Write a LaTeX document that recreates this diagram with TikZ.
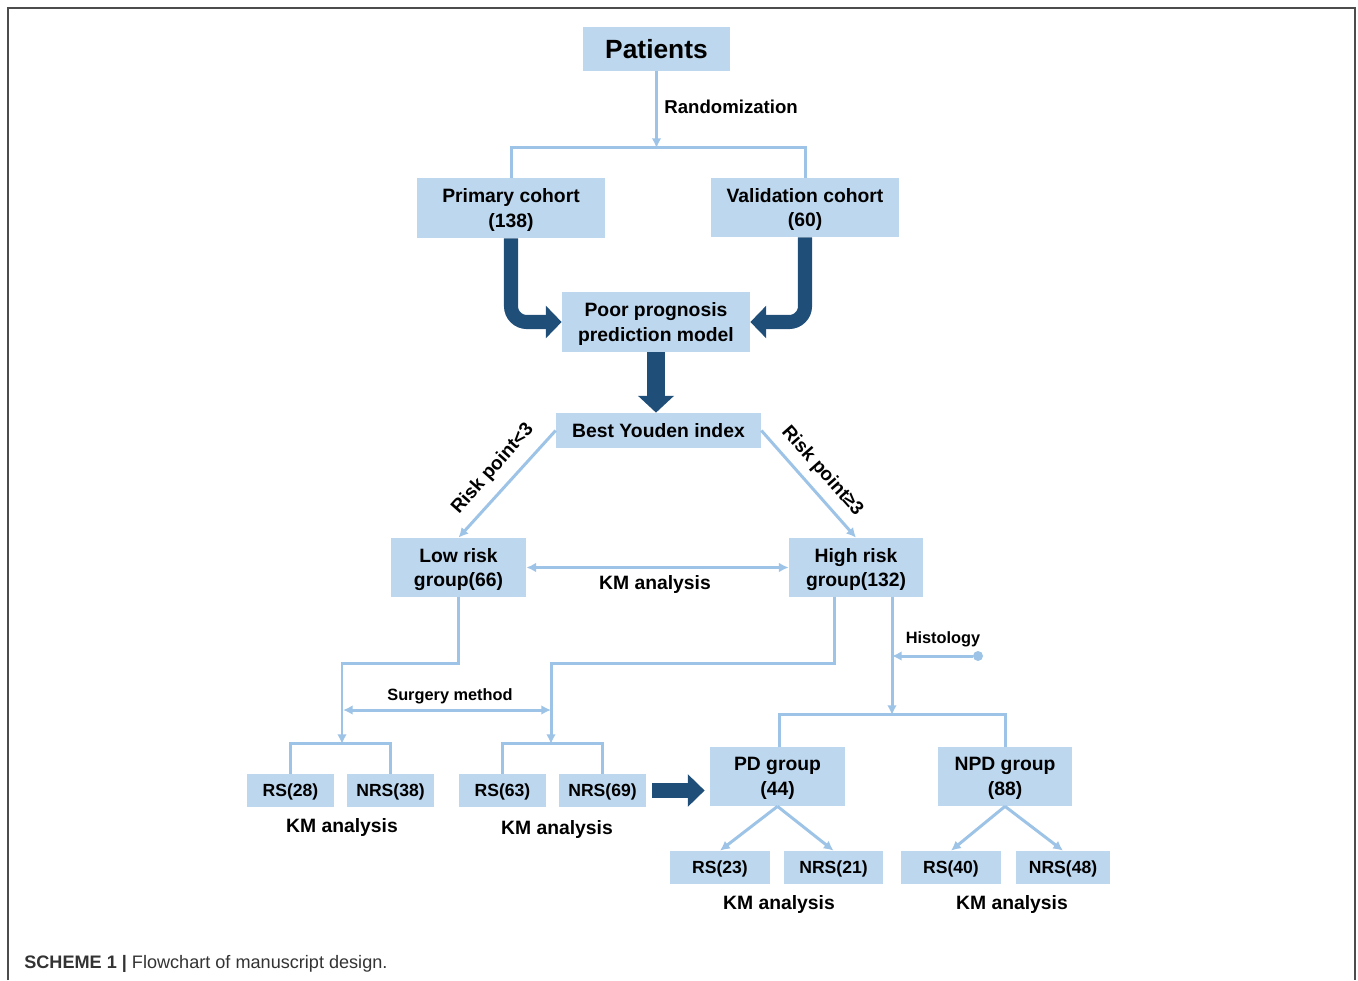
\documentclass[tikz,border=0pt]{standalone}
\usepackage{fontspec}
\setmainfont{Liberation Sans}
\usetikzlibrary{arrows.meta}
\newdimen\px \px=0.02cm
\definecolor{boxfill}{HTML}{BDD7EE}
\definecolor{lineblue}{HTML}{9DC3E6}
\definecolor{darkarrow}{HTML}{1F4E79}
\tikzset{
  box/.style={fill=boxfill, inner sep=0pt, align=center, text depth=0pt, font=\bfseries\fontsize{11}{13.9}\selectfont},
  smallbox/.style={box, minimum height=33\px, font=\bfseries\fontsize{10}{12}\selectfont},
  conn/.style={draw=lineblue, line width=1.7pt},
  arr/.style={conn, -{Latex[length=5.5pt,width=5.5pt]}},
  dblarr/.style={conn, {Latex[length=5.5pt,width=5.5pt]}-{Latex[length=5.5pt,width=5.5pt]}},
  bigarrow/.style={draw=darkarrow, line width=8pt, -{Triangle[length=9pt,width=18pt]}},
  lbl/.style={font=\bfseries\fontsize{11}{13}\selectfont, inner sep=0pt},
  smalllbl/.style={font=\bfseries\fontsize{9.3}{11}\selectfont, inner sep=0pt},
}
\begin{document}
\begin{tikzpicture}[x=0.02cm,y=-0.02cm]
\useasboundingbox (0,0) rectangle (1358,980);
% frame
\draw[black!70, line width=0.9pt] (8,980) -- (8,8) -- (1355,8) -- (1355,980);

% nodes
\node[box, minimum width=147\px, minimum height=44\px, font=\bfseries\fontsize{15}{18}\selectfont] (pat) at (656.5,49) {Patients};
\node[box, minimum width=188\px, minimum height=60\px] (prim) at (511,208) {Primary cohort\\(138)};
\node[box, minimum width=188\px, minimum height=59\px] (val) at (805,207.5) {Validation cohort\\(60)};
\node[box, minimum width=188\px, minimum height=60\px] (poor) at (656,322) {Poor prognosis\\prediction model};
\node[box, minimum width=205\px, minimum height=35\px] (best) at (658.5,430.5) {Best Youden index};
\node[box, minimum width=135\px, minimum height=59\px] (low) at (458.5,567.5) {Low risk\\group(66)};
\node[box, minimum width=134\px, minimum height=59\px] (high) at (856,567.5) {High risk\\group(132)};
\node[smallbox, minimum width=87\px] (rs28) at (290.5,790.5) {RS(28)};
\node[smallbox, minimum width=87\px] (nrs38) at (390.5,790.5) {NRS(38)};
\node[smallbox, minimum width=87\px] (rs63) at (502.5,790.5) {RS(63)};
\node[smallbox, minimum width=87\px] (nrs69) at (602.5,790.5) {NRS(69)};
\node[box, minimum width=135\px, minimum height=59\px] (pd) at (777.5,776.5) {PD group\\(44)};
\node[box, minimum width=134\px, minimum height=59\px] (npd) at (1005,776.5) {NPD group\\(88)};
\node[smallbox, minimum width=100\px] (rs23) at (720,867.5) {RS(23)};
\node[smallbox, minimum width=99\px] (nrs21) at (833.5,867.5) {NRS(21)};
\node[smallbox, minimum width=100\px] (rs40) at (951,867.5) {RS(40)};
\node[smallbox, minimum width=94\px] (nrs48) at (1063,867.5) {NRS(48)};

% labels
\node[lbl, anchor=west, font=\bfseries\fontsize{10.6}{12}\selectfont] (rand) at (664,107) {Randomization};
\node[lbl, rotate=48.5, font=\bfseries\fontsize{10.8}{12}\selectfont] (rlow) at (493,469) {Risk point<3};
\node[lbl, rotate=-48.5, font=\bfseries\fontsize{10.8}{12}\selectfont] (rhigh) at (822,471) {Risk point≥3};
\node[lbl] (km0) at (655,584) {KM analysis};
\node[smalllbl] (surg) at (450,696) {Surgery method};
\node[smalllbl] (hist) at (943,639) {Histology};
\node[lbl] (km1) at (342,827) {KM analysis};
\node[lbl] (km2) at (557,829) {KM analysis};
\node[lbl] (km3) at (779,904) {KM analysis};
\node[lbl] (km4) at (1012,904) {KM analysis};
\node[anchor=west, inner sep=0pt, text=black!80, font=\fontsize{10.3}{12}\selectfont] (cap) at (24,964) {\textbf{SCHEME 1 |} Flowchart of manuscript design.};

% coordinates
\coordinate (split) at (656.5,148);
\coordinate (b1) at (342,744);
\coordinate (b2) at (551,744);
\coordinate (b3) at (892,715);
\coordinate (sL) at (343,710);
\coordinate (sR) at (551,710);
\coordinate (hpt) at (892,656);
\node[circle, fill=lineblue, inner sep=0pt, minimum size=10\px] (dot) at (978,656) {};

% connectors
\draw[arr] (pat) -- (split);
\draw[conn] (prim.north) -- ++(0,-30) -| (val.north);
\draw[bigarrow, rounded corners=9pt] (prim.south) -- (prim.south |- poor.west) -- (poor.west);
\draw[bigarrow, rounded corners=9pt] (val.south) -- (val.south |- poor.east) -- (poor.east);
\draw[draw=darkarrow, line width=10pt, -{Triangle[length=9.6pt,width=20pt]}] (poor.south) -- (poor.south |- best.north);
\draw[arr] (best.west) -- (low.north);
\draw[arr] (best.east) -- (high.north);
\draw[dblarr] (low.east) -- (high.west);

\draw[arr] (low.south) -- ++(0,66) -| (b1);
\draw[conn] (rs28.north) -- ++(0,-30) -| (nrs38.north);
\draw[dblarr] (sL) -- (sR);
\draw[arr] ([xshift=-22\px]high.south) -- ++(0,66) -| (b2);
\draw[conn] (rs63.north) -- ++(0,-30) -| (nrs69.north);
\draw[arr] ([xshift=36\px]high.south) -- (b3);
\draw[arr] (dot) -- (hpt);
\draw[conn] ([xshift=2\px]pd.north) -- ++(0,-32) -| (npd.north);

\draw[draw=darkarrow, line width=9pt, -{Triangle[length=9.6pt,width=18pt]}] ([xshift=6\px]nrs69.east) -- ([xshift=-5\px]pd.west |- nrs69.east);

\draw[arr] (pd.south) -- (rs23.north);
\draw[arr] (pd.south) -- (nrs21.north);
\draw[arr] (npd.south) -- (rs40.north);
\draw[arr] (npd.south) -- (nrs48.north);
\end{tikzpicture}
\end{document}
